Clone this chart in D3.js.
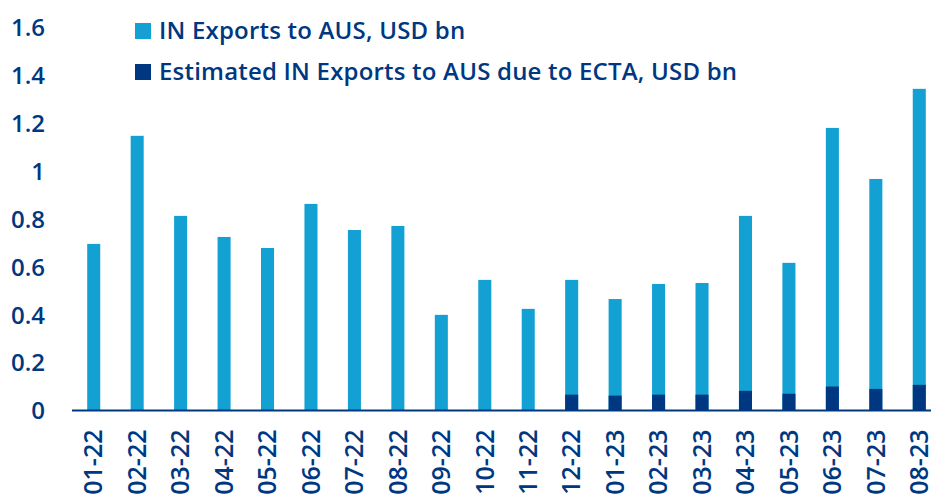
<!DOCTYPE html>
<html>
<head>
<meta charset="utf-8">
<script src="https://cdn.jsdelivr.net/npm/d3@7"></script>
<style>
  body { margin: 0; background: #fff; }
  svg text { font-family: "Open Sans", sans-serif; font-weight: 600; fill: #003781; }
</style>
</head>
<body>
<div id="chart"></div>
<script>
// months on the x axis
var months = ["01-22", "02-22", "03-22", "04-22", "05-22", "06-22", "07-22", "08-22", "09-22", "10-22",
    "11-22", "12-22", "01-23", "02-23", "03-23", "04-23", "05-23", "06-23", "07-23", "08-23"];
// total exports, USD bn
var exportsTotal = [0.695, 1.146, 0.812, 0.724, 0.678, 0.862, 0.753, 0.770, 0.399, 0.545,
    0.424, 0.545, 0.465, 0.528, 0.532, 0.812, 0.616, 1.179, 0.966, 1.342];
// part estimated due to ECTA, USD bn
var exportsEcta = [0, 0, 0, 0, 0, 0, 0, 0, 0, 0,
    0, 0.066, 0.062, 0.066, 0.066, 0.082, 0.070, 0.100, 0.090, 0.107];
var yTicks = [0, 0.2, 0.4, 0.6, 0.8, 1, 1.2, 1.4, 1.6];
var legendLabels = ["IN Exports to AUS, USD bn", "Estimated IN Exports to AUS due to ECTA, USD bn"];

var W = 931, H = 494,
    lightBlue = "#13a0d3",
    darkBlue = "#003781";

var svg = d3.select("#chart").append("svg")
    .attr("width", W)
    .attr("height", H);

var x = d3.scaleBand()
    .domain(months)
    .range([72, 941])
    .paddingInner(0.7)
    .paddingOuter(0.35);

var y = d3.scaleLinear()
    .domain([0, 1.6])
    .range([410.5, 27]);

// y labels, no axis line
svg.append("g")
    .attr("transform", "translate(45,0)")
    .call(d3.axisLeft(y).tickValues(yTicks).tickSize(0).tickPadding(0)
        .tickFormat(function (d) { return String(+d.toFixed(1)); }))
    .call(function (g) { g.select(".domain").remove(); })
    .selectAll("text")
    .attr("font-size", 24)
    .attr("dy", "0.35em");

var rows = months.map(function (m, i) {
    return {month: m, total: exportsTotal[i], ecta: exportsEcta[i]};
});

// total bars
svg.append("g").selectAll("rect")
    .data(rows)
    .enter().append("rect")
    .attr("x", function (d) { return x(d.month); })
    .attr("y", function (d) { return y(d.total); })
    .attr("width", x.bandwidth())
    .attr("height", function (d) { return y(0) - y(d.total); })
    .style("fill", lightBlue);

// ECTA part at the bottom
svg.append("g").selectAll("rect")
    .data(rows.filter(function (d) { return d.ecta > 0; }))
    .enter().append("rect")
    .attr("x", function (d) { return x(d.month); })
    .attr("y", function (d) { return y(d.ecta); })
    .attr("width", x.bandwidth())
    .attr("height", function (d) { return y(0) - y(d.ecta); })
    .style("fill", darkBlue);

// x axis
var xAxis = svg.append("g")
    .attr("transform", "translate(0," + y(0) + ")")
    .call(d3.axisBottom(x).tickSize(0).tickSizeOuter(0));
xAxis.select(".domain")
    .attr("stroke", darkBlue)
    .attr("stroke-width", 2)
    .attr("d", "M72,0H931");
xAxis.selectAll("text")
    .attr("font-size", 25)
    .attr("text-anchor", "end")
    .attr("transform", "translate(0,19) rotate(-90)")
    .attr("x", 0)
    .attr("y", 0)
    .attr("dy", "0.35em");

// legend
var legend = svg.append("g").selectAll("g")
    .data(legendLabels)
    .enter().append("g")
    .attr("transform", function (d, i) { return "translate(135," + (23 + i * 41) + ")"; });
legend.append("rect")
    .attr("width", 16)
    .attr("height", 16)
    .style("fill", function (d, i) { return i === 0 ? lightBlue : darkBlue; });
legend.append("text")
    .attr("x", 24)
    .attr("y", 8)
    .attr("dy", "0.35em")
    .attr("font-size", 24)
    .attr("letter-spacing", 0.2)
    .text(function (d) { return d; });
</script>
</body>
</html>
